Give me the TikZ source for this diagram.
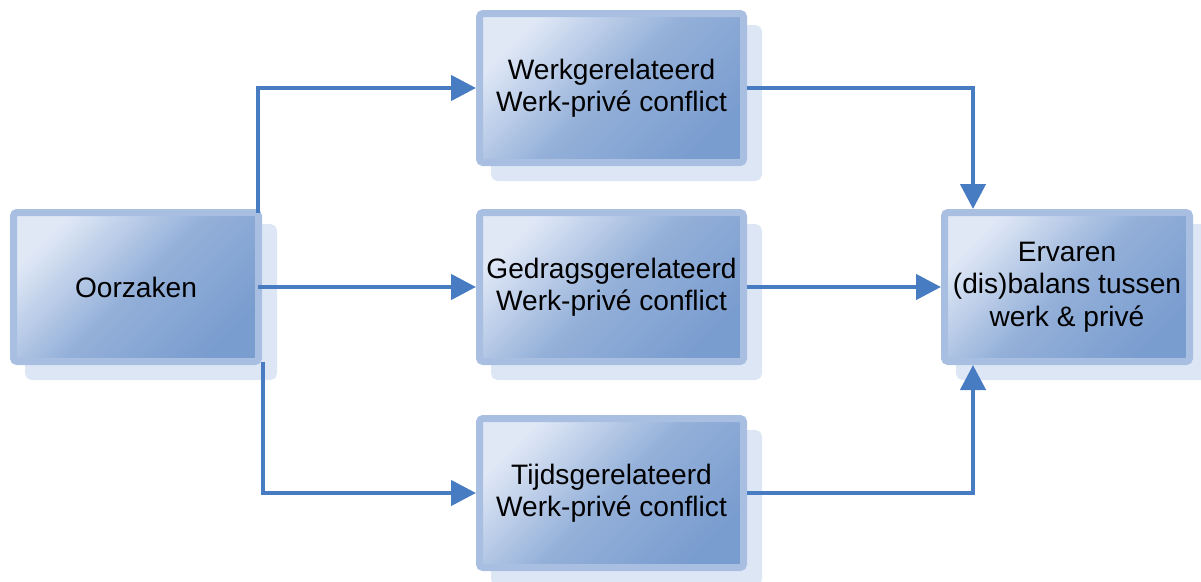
\documentclass[tikz,border=0pt]{standalone}
\usepackage{fontspec}
\setmainfont{Liberation Sans}
\usetikzlibrary{arrows.meta, positioning, calc, shadows}
\definecolor{boxlight}{RGB}{224,232,246}
\definecolor{boxdark}{RGB}{122,157,207}
\definecolor{boxrim}{RGB}{169,191,226}
\definecolor{shadowblue}{RGB}{221,230,244}
\definecolor{arrowblue}{RGB}{72,124,194}

\begin{document}
\begin{tikzpicture}[
        node distance=1cm,
        box/.style={rectangle, draw=boxrim, line width=0.14cm, rounded corners=2pt,
                    top color=boxlight, bottom color=boxdark,
                    middle color=boxdark!75!boxlight, shading angle=45,
                    minimum width=4.9cm, minimum height=2.98cm,
                    align=center, font=\fontsize{16pt}{18.5pt}\selectfont,
                    general shadow={shadow xshift=0.3cm, shadow yshift=-0.3cm,
                                    fill=shadowblue, draw=shadowblue}},
        wide/.style={box, minimum width=5.28cm},
        arr/.style={-{Triangle[length=0.5cm, width=0.5cm]}, line width=0.09cm, arrowblue}
      ]
        \useasboundingbox (0,0) rectangle (24.02,11.62);

        \node[box] (oorz) at (2.72,5.88) {Oorzaken};
        \node[wide, right=4.28cm of oorz] (gedr) {Gedragsgerelateerd\\Werk-privé conflict};
        \node[wide, above=0.86cm of gedr] (werk) {Werkgerelateerd\\Werk-privé conflict};
        \node[wide, below=1cm of gedr] (tijd) {Tijdsgerelateerd\\Werk-privé conflict};
        \node[box, right=3.88cm of gedr] (erv) {Ervaren\\(dis)balans tussen\\werk \& privé};

        % oorzaken naar de drie soorten conflict
        \draw[arr] ([shift={(-0.08,-0.08)}]oorz.north east) |- (werk.west);
        \draw[arr] ([xshift=-0.08cm]oorz.east) -- (gedr.west);
        \draw[arr] ([shift={(0.02,0.06)}]oorz.south east) |- (tijd.west);

        % conflicten naar ervaren balans
        \draw[arr] (werk.east) -| ([xshift=0.64cm]erv.north west);
        \draw[arr] (gedr.east) -- (erv.west);
        \draw[arr] (tijd.east) -| ([xshift=0.64cm]erv.south west);
      \end{tikzpicture}
\end{document}
